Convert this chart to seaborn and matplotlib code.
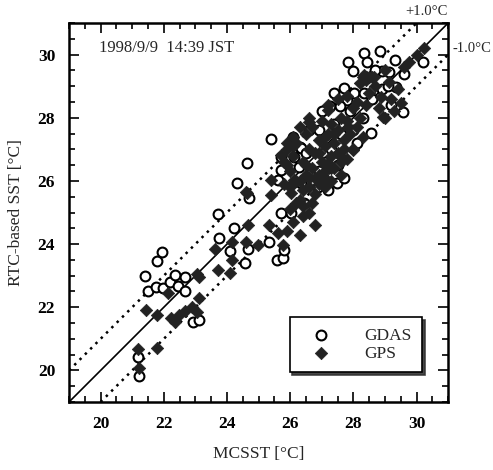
import numpy as np
import pandas as pd
import matplotlib
matplotlib.use("Agg")
import matplotlib.pyplot as plt
import seaborn as sns
from matplotlib.ticker import MultipleLocator

# ---------------- data ----------------
gdas_x = [21.41, 21.51, 21.79, 21.95, 21.76, 21.98, 22.21, 22.37, 22.46, 22.68, 22.68, 21.19, 21.22,
          22.94, 23.13, 23.70, 23.76, 24.08, 24.21, 24.33, 24.71, 24.56, 24.65, 25.32, 25.57, 25.76,
          25.79, 25.70, 26.02, 26.43, 27.19, 27.48, 25.38, 24.62, 26.08, 26.30, 28.33, 28.84, 27.83,
          28.43, 29.32, 27.98, 28.90, 29.13, 30.21, 29.35, 29.57, 28.56, 27.38, 27.70, 28.02, 28.33,
          27.79, 27.25, 27.57, 26.11, 26.27, 25.70, 25.60, 26.33, 26.87, 26.65, 25.70, 26.33,
          26.90, 27.30, 27.00, 27.60, 27.90, 27.10, 27.50, 28.10, 28.30, 26.50, 26.90, 27.70, 28.60,
          28.90, 29.20, 28.00, 26.60, 27.40, 28.70, 29.60, 29.10]
gdas_y = [22.99, 22.51, 23.46, 23.75, 22.64, 22.61, 22.80, 23.02, 22.67, 22.96, 22.51, 20.42, 19.82,
          21.53, 21.59, 24.95, 24.19, 23.78, 24.51, 25.93, 25.46, 23.40, 23.84, 24.06, 23.49, 23.56,
          23.81, 24.98, 24.98, 25.30, 25.71, 25.93, 27.32, 26.56, 27.39, 27.07, 30.04, 30.11, 29.76,
          29.76, 29.82, 29.47, 29.47, 29.44, 29.76, 28.97, 28.18, 27.51, 28.78, 28.94, 28.78, 28.78,
          28.56, 28.37, 28.37, 26.75, 26.44, 26.34, 26.03, 25.93, 25.80, 26.25, 26.75, 27.04,
          27.60, 27.00, 28.20, 27.50, 28.20, 26.60, 26.50, 27.20, 28.00, 26.90, 26.30, 26.10, 28.60,
          28.90, 28.40, 27.60, 27.60, 27.80, 29.50, 29.40, 29.00]

gps_x = [21.44, 21.79, 21.19, 21.22, 21.79, 22.24, 22.37, 22.49, 22.68, 22.90, 23.06, 23.13, 23.10,
         23.06, 22.14, 23.63, 23.73, 24.11, 24.17, 24.17, 24.59, 24.68, 24.97, 24.62, 25.38, 25.32,
         25.60, 25.76, 26.02, 24.59, 25.38, 25.70, 26.59, 27.19, 28.33, 28.65, 29.76, 30.24, 29.13,
         28.87, 29.51, 28.94, 27.83, 27.60, 27.98, 27.19, 26.11,
         26.0, 26.1, 26.2, 26.3, 26.3, 26.4, 26.5, 26.5, 26.6, 26.6, 26.7, 26.7, 26.8, 26.8, 26.9,
         26.9, 27.0, 27.0, 27.0, 27.1, 27.1, 27.2, 27.2, 27.3, 27.3, 27.4, 27.4, 27.5, 27.5, 27.6,
         27.6, 27.7, 27.8, 27.8, 27.9, 28.0, 28.0, 28.1, 28.2, 28.3, 28.4, 28.5, 28.6, 28.7, 28.4,
         28.2, 28.8, 29.0, 29.2, 29.3, 29.4, 29.0, 29.6, 30.0, 25.8, 25.9, 26.0, 26.1, 26.2, 25.9,
         26.4, 26.6, 26.8, 26.3, 25.9, 26.1, 26.3, 26.6, 27.2, 27.5, 27.8,
         26.2, 26.4, 26.5, 26.7, 26.8, 26.9, 27.0, 27.1, 27.3, 27.4, 27.6, 27.7, 25.8, 25.9, 26.1,
         26.6, 26.9, 27.1, 27.3, 28.1, 28.5, 28.3, 26.4, 26.0]
gps_y = [21.91, 21.75, 20.68, 20.08, 20.71, 21.66, 21.53, 21.75, 21.88, 22.01, 21.85, 22.29, 22.96,
         23.05, 22.45, 23.84, 23.18, 23.08, 23.49, 24.06, 24.06, 24.60, 23.97, 25.61, 25.55, 24.60,
         24.35, 23.97, 25.61, 25.65, 26.03, 26.82, 27.86, 28.24, 29.35, 29.28, 29.76, 30.20, 29.13,
         28.65, 28.46, 28.02, 27.70, 26.75, 26.97, 26.56, 26.03,
         26.3, 26.8, 27.2, 26.0, 25.4, 26.6, 27.5, 26.2, 25.8, 27.0, 26.4, 27.7, 25.6, 26.9, 26.2,
         27.3, 26.6, 27.9, 25.9, 27.1, 26.3, 27.5, 26.0, 26.8, 27.8, 26.4, 27.2, 26.9, 27.6, 26.2,
         28.0, 27.3, 26.7, 27.9, 27.5, 27.0, 28.3, 27.7, 28.0, 27.4, 28.4, 28.8, 29.3, 29.0, 29.2,
         29.1, 28.3, 28.0, 28.6, 28.2, 28.9, 29.5, 29.6, 30.0, 25.9, 26.5, 25.1, 24.7, 25.3, 24.4,
         24.9, 25.0, 24.6, 24.3, 27.0, 27.4, 27.7, 28.0, 28.4, 28.6, 28.7,
         26.0, 25.7, 26.5, 25.3, 26.1, 25.9, 26.2, 25.8, 26.4, 27.5, 26.6, 27.0, 26.6, 27.2, 27.1,
         26.1, 26.9, 27.4, 26.0, 28.5, 29.3, 29.3, 25.2, 25.8]

x_ticks = [20, 22, 24, 26, 28, 30]
y_ticks = [20, 22, 24, 26, 28, 30]
x_label = "MCSST [°C]"
y_label = "RTC-based SST [°C]"
stamp = "1998/9/9  14:39 JST"

df_gdas = pd.DataFrame({"MCSST": gdas_x, "RTC": gdas_y, "src": "GDAS"})
df_gps = pd.DataFrame({"MCSST": gps_x, "RTC": gps_y, "src": "GPS"})

# ---------------- style ----------------
sns.set_style("ticks")
plt.rcParams["font.family"] = ["Liberation Serif", "DejaVu Serif"]

fig = plt.figure(figsize=(4.93, 4.70), dpi=100)
ax = fig.add_axes([0.140, 0.1447, 0.769, 0.8063])

sns.scatterplot(data=df_gdas, x="MCSST", y="RTC", ax=ax, marker="o", s=50,
                facecolor="white", edgecolor="black", linewidth=1.5, label="GDAS", zorder=3)
sns.scatterplot(data=df_gps, x="MCSST", y="RTC", ax=ax, marker="D", s=40,
                color="#222222", edgecolor="#222222", linewidth=0.5, label="GPS", zorder=3)

ax.axline((20, 20), slope=1, color="black", lw=1.2, zorder=2)
ax.axline((20, 21), slope=1, color="black", lw=1.8, ls=(0, (1, 2)), zorder=2)
ax.axline((20, 19), slope=1, color="black", lw=1.8, ls=(0, (1, 2)), zorder=2)

ax.set_xlim(19, 31)
ax.set_ylim(19, 31)
ax.set_xticks(x_ticks)
ax.set_yticks(y_ticks)
ax.xaxis.set_minor_locator(MultipleLocator(0.5))
ax.yaxis.set_minor_locator(MultipleLocator(0.5))
ax.tick_params(which="both", direction="in", top=True, right=True, width=1.2, colors="black")
ax.tick_params(which="major", length=7, labelsize=12.5)
ax.tick_params(axis="x", which="major", pad=10)
ax.tick_params(axis="y", which="major", pad=10)
ax.tick_params(which="minor", length=4)
for sp in ax.spines.values():
    sp.set_linewidth(1.8)
    sp.set_color("black")
for lab in ax.get_xticklabels() + ax.get_yticklabels():
    lab.set_fontweight("bold")

ax.set_xlabel(x_label, fontsize=12.5, labelpad=10)
ax.set_ylabel(y_label, fontsize=12.5, labelpad=10)

ax.text(0.08, 0.935, stamp, transform=ax.transAxes, fontsize=12, va="center", ha="left")
ax.text(30.3, 31.15, "+1.0°C", fontsize=10.5, ha="center", va="bottom", clip_on=False)
ax.text(31.15, 30.2, "-1.0°C", fontsize=10.5, ha="left", va="center", clip_on=False)

leg = ax.legend(loc="lower right", bbox_to_anchor=(0.931, 0.079), frameon=True, fancybox=False,
                shadow={"color": "#333333", "alpha": 0.9}, edgecolor="black", fontsize=12.5,
                handletextpad=1.3, handlelength=2.4, borderpad=0.6, labelspacing=0.1,
                borderaxespad=0)
leg.get_frame().set_linewidth(1.2)
leg.set_zorder(5)

fig.savefig("out.png", dpi=100)
